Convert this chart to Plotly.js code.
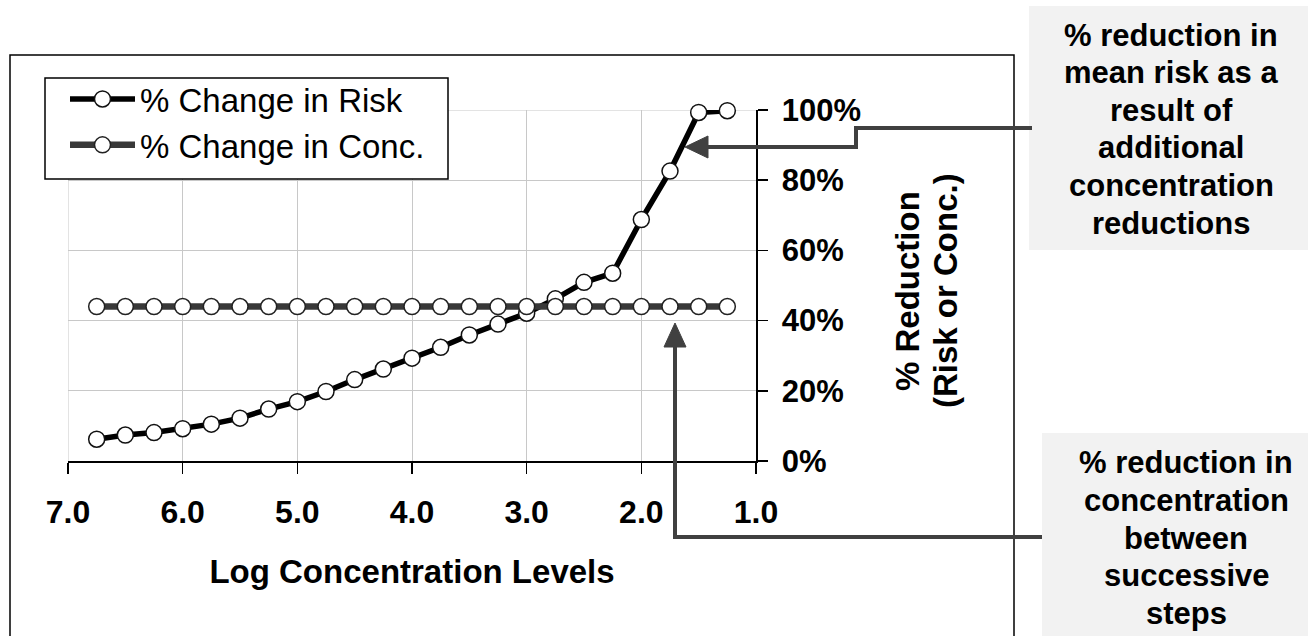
<!DOCTYPE html>
<html>
<head>
<meta charset="utf-8">
<script src="https://cdn.plot.ly/plotly-3.0.1.min.js"></script>
<style>
  html, body { margin: 0; padding: 0; background: #ffffff; }
  #chart { width: 1308px; height: 636px; }
</style>
</head>
<body>
<div id="chart"></div>
<script>
// ---- data ----
const logConc = [6.75, 6.5, 6.25, 6.0, 5.75, 5.5, 5.25, 5.0, 4.75, 4.5, 4.25, 4.0,
                 3.75, 3.5, 3.25, 3.0, 2.75, 2.5, 2.25, 2.0, 1.75, 1.5, 1.25];
const riskReduction = [0.062, 0.074, 0.081, 0.092, 0.105, 0.122, 0.148, 0.169, 0.198, 0.232, 0.262, 0.293,
                       0.324, 0.359, 0.390, 0.421, 0.462, 0.509, 0.535, 0.688, 0.826, 0.993, 0.998];
const concReduction = [0.44, 0.44, 0.44, 0.44, 0.44, 0.44, 0.44, 0.44, 0.44, 0.44, 0.44, 0.44,
                       0.44, 0.44, 0.44, 0.44, 0.44, 0.44, 0.44, 0.44, 0.44, 0.44, 0.44];
const seriesNames = ['% Change in Risk', '% Change in Conc.'];
const xTickVals = [7, 6, 5, 4, 3, 2, 1];
const xTitle = 'Log Concentration Levels';
const yTitleLines = ['% Reduction', '(Risk or Conc.)'];
const box1Lines = ['% reduction in', 'mean risk as a', 'result of', 'additional', 'concentration', 'reductions'];
const box2Lines = ['% reduction in', 'concentration', 'between', 'successive', 'steps'];

// ---- geometry helpers (pixel -> paper) ----
const W = 1308, H = 636;
const M = {l: 68, r: 552, t: 110, b: 175};
const PW = W - M.l - M.r, PH = H - M.t - M.b;
const px = X => (X - M.l) / PW;
const py = Y => (H - M.b - Y) / PH;

const FONT = '"Liberation Sans", Arial, Helvetica, sans-serif';
const ARROW = '#404040';
const GRID = '#c8c8c8';

const traces = [
  {
    x: logConc, y: riskReduction, name: seriesNames[0], type: 'scatter', mode: 'lines+markers',
    line: {color: '#000000', width: 5.5},
    marker: {symbol: 'circle', size: 16, color: '#ffffff', line: {color: '#111111', width: 1.5}},
    cliponaxis: false
  },
  {
    x: logConc, y: concReduction, name: seriesNames[1], type: 'scatter', mode: 'lines+markers',
    line: {color: '#383838', width: 6.5},
    marker: {symbol: 'circle', size: 16, color: '#ffffff', line: {color: '#222222', width: 1.5}},
    cliponaxis: false
  }
];

function pathFrom(points) {
  return points.map((p, i) => (i ? 'L' : 'M') + px(p[0]) + ',' + py(p[1])).join(' ');
}

const shapes = [
  // outer frame
  {type: 'rect', xref: 'paper', yref: 'paper', x0: px(10), x1: px(1014), y0: py(55), y1: py(700),
   line: {color: '#000000', width: 1.5}, fillcolor: 'rgba(0,0,0,0)', layer: 'below'},
  // edge gridlines (7.0 and 100%)
  {type: 'line', xref: 'x', yref: 'y', x0: 7, x1: 7, y0: 0, y1: 1,
   line: {color: GRID, width: 1}, layer: 'below'},
  {type: 'line', xref: 'x', yref: 'y', x0: 7, x1: 1, y0: 1, y1: 1,
   line: {color: GRID, width: 1}, layer: 'below'},
  // legend frame
  {type: 'rect', xref: 'paper', yref: 'paper', x0: px(45), x1: px(448), y0: py(78), y1: py(179),
   line: {color: '#000000', width: 1.5}, fillcolor: '#ffffff', layer: 'above'},
  // gray note boxes
  {type: 'rect', xref: 'paper', yref: 'paper', x0: px(1029), x1: px(1320), y0: py(6), y1: py(250),
   line: {width: 0}, fillcolor: '#f2f2f2', layer: 'below'},
  {type: 'rect', xref: 'paper', yref: 'paper', x0: px(1042), x1: px(1320), y0: py(433), y1: py(700),
   line: {width: 0}, fillcolor: '#f2f2f2', layer: 'below'},
  // arrow 1 (risk)
  {type: 'path', xref: 'paper', yref: 'paper',
   path: pathFrom([[1032, 128], [856, 128], [856, 147], [705, 147]]),
   line: {color: ARROW, width: 4}},
  {type: 'path', xref: 'paper', yref: 'paper',
   path: pathFrom([[685, 147], [708, 136], [708, 158]]) + ' Z',
   line: {color: ARROW, width: 1}, fillcolor: ARROW},
  // arrow 2 (conc)
  {type: 'path', xref: 'paper', yref: 'paper',
   path: pathFrom([[1042, 537], [675, 537], [675, 345]]),
   line: {color: ARROW, width: 4}},
  {type: 'path', xref: 'paper', yref: 'paper',
   path: pathFrom([[675, 323], [664, 347], [686, 347]]) + ' Z',
   line: {color: ARROW, width: 1}, fillcolor: ARROW}
];

const annotations = [];
yTitleLines.forEach((t, i) => {
  annotations.push({text: t, xref: 'paper', yref: 'paper', x: px(907 + i * 38), y: py(291),
    xanchor: 'center', yanchor: 'middle', textangle: -90, showarrow: false,
    font: {family: FONT, size: 33, color: '#000000', weight: 'bold'}});
});
box1Lines.forEach((t, i) => {
  annotations.push({text: t, xref: 'paper', yref: 'paper', x: px(1171), y: py(35 + i * 37.6),
    xanchor: 'center', yanchor: 'middle', showarrow: false,
    font: {family: FONT, size: 31, color: '#000000', weight: 'bold'}});
});
box2Lines.forEach((t, i) => {
  annotations.push({text: t, xref: 'paper', yref: 'paper', x: px(1186), y: py(463 + i * 37.6),
    xanchor: 'center', yanchor: 'middle', showarrow: false,
    font: {family: FONT, size: 31, color: '#000000', weight: 'bold'}});
});

const layout = {
  width: W, height: H,
  margin: M,
  paper_bgcolor: '#ffffff', plot_bgcolor: '#ffffff',
  font: {family: FONT, color: '#000000', size: 31},
  showlegend: true,
  legend: {
    x: px(65), y: py(71), xanchor: 'left', yanchor: 'top',
    bgcolor: 'rgba(0,0,0,0)', borderwidth: 0,
    font: {family: FONT, size: 33, color: '#000000'},
    itemwidth: 65, tracegroupgap: 0
  },
  xaxis: {
    range: [7, 1], tickvals: xTickVals, tickformat: '.1f',
    showline: true, linecolor: '#000000', linewidth: 1.5,
    ticks: 'outside', ticklen: 11, tickcolor: '#000000', tickwidth: 1.5,
    showgrid: true, gridcolor: GRID, gridwidth: 1, zeroline: false,
    tickfont: {family: FONT, size: 32, color: '#000000', weight: 'bold'},
    ticklabelstandoff: 11,
    title: {text: xTitle, standoff: 31, font: {family: FONT, size: 33, color: '#000000', weight: 'bold'}}
  },
  yaxis: {
    range: [0, 1], dtick: 0.2, tick0: 0, tickformat: '.0%', side: 'right',
    showline: true, linecolor: '#000000', linewidth: 1.5,
    ticks: 'outside', ticklen: 10, tickcolor: '#000000', tickwidth: 1.5,
    showgrid: true, gridcolor: GRID, gridwidth: 1, zeroline: false,
    tickfont: {family: FONT, size: 31, color: '#000000', weight: 'bold'},
    ticklabelstandoff: 8
  },
  shapes: shapes,
  annotations: annotations
};

Plotly.newPlot('chart', traces, layout, {displayModeBar: false, staticPlot: true});
</script>
</body>
</html>
